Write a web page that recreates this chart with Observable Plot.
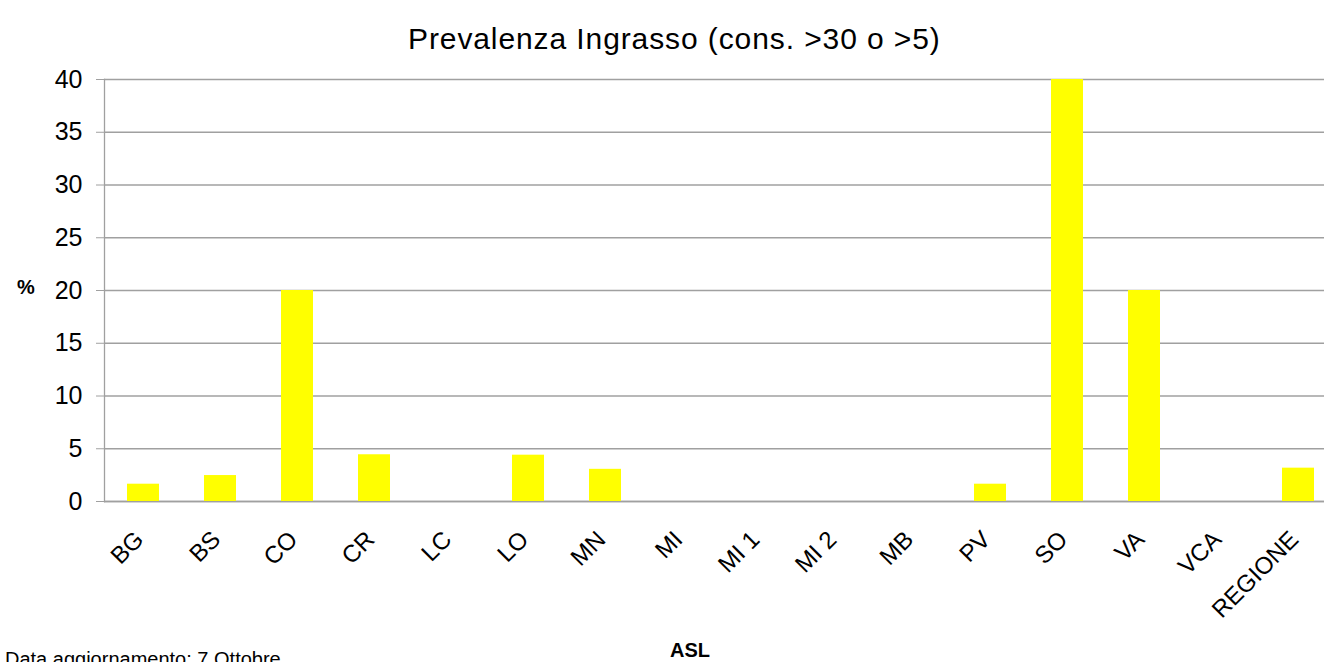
<!DOCTYPE html>
<html>
<head>
<meta charset="utf-8">
<script src="https://cdn.jsdelivr.net/npm/d3@7"></script>
<script src="https://cdn.jsdelivr.net/npm/@observablehq/plot@0.6"></script>
<style>
  html, body { margin: 0; padding: 0; background: #fff; }
  #wrap { position: relative; width: 1325px; height: 662px; overflow: hidden; font-family: "Liberation Sans", Arial, sans-serif; }
  .lbl { position: absolute; color: #000; white-space: nowrap; line-height: 1; }
  #title { top: 24px; left: 408px; font-size: 30px; letter-spacing: 0.9px; }
  #ylab { top: 277px; left: 17px; font-size: 20px; font-weight: bold; }
  #xlab { top: 640px; left: 670px; font-size: 20px; font-weight: bold; }
  #foot { top: 649px; left: 5px; font-size: 20px; }
  #chart svg g[aria-label="y-axis tick label"] text { font-size: 25px; }
  #chart svg g[aria-label="x-axis tick label"] text { font-size: 24px; }
</style>
</head>
<body>
<div id="wrap">
  <div id="chart"></div>
  <div class="lbl" id="title">Prevalenza Ingrasso (cons. &gt;30 o &gt;5)</div>
  <div class="lbl" id="ylab">%</div>
  <div class="lbl" id="xlab">ASL</div>
  <div class="lbl" id="foot">Data aggiornamento: 7 Ottobre</div>
</div>
<script>
const categories = ["BG","BS","CO","CR","LC","LO","MN","MI","MI 1","MI 2","MB","PV","SO","VA","VCA","REGIONE"];
const values = [1.64, 2.46, 20, 4.43, 0, 4.39, 3.05, 0, 0, 0, 0, 1.64, 40, 20, 0, 3.16];
const yTicks = [0, 5, 10, 15, 20, 25, 30, 35, 40];

const data = categories.map((c, i) => ({asl: c, v: values[i]}));

const chart = Plot.plot({
  width: 1325,
  height: 662,
  marginLeft: 104,
  marginRight: 1,
  marginTop: 79,
  marginBottom: 161,
  style: {fontFamily: "'Liberation Sans', Arial, sans-serif", fontSize: "24px", color: "#000", background: "#fff", overflow: "hidden"},
  x: {domain: categories, range: [104, 1337], paddingInner: 0.59, paddingOuter: 0.295, align: 0.5, label: null},
  y: {domain: [0, 40], label: null},
  marks: [
    Plot.gridY(yTicks, {stroke: "#a0a0a0", strokeOpacity: 1, strokeWidth: 1.3}),
    Plot.ruleY([0], {stroke: "#a0a0a0", strokeWidth: 1.3}),
    Plot.barY(data, {x: "asl", y: "v", fill: "#ffff00"}),
    Plot.axisY(yTicks, {tickSize: 8, tickPadding: 14, stroke: "#a0a0a0", fill: "#000", fontSize: 25, tickFormat: d => String(d), label: null}),
    Plot.axisX({tickSize: 0, tickRotate: -45, tickPadding: 34, dx: -4, fill: "#000", fontSize: 24, label: null}),
    Plot.frame({anchor: "left", stroke: "#a0a0a0", strokeWidth: 1.3})
  ]
});
document.getElementById("chart").appendChild(chart);
</script>
</body>
</html>
